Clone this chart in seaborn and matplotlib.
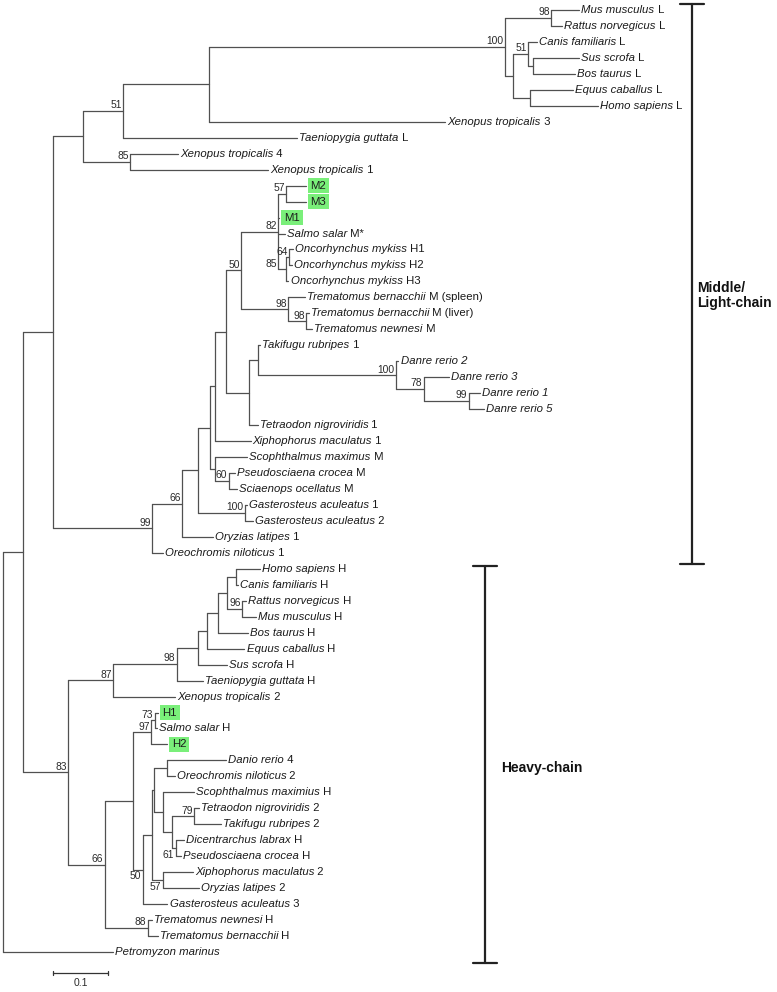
# phylogenetic tree of light / middle / heavy chain sequences, drawn from branch lengths
import numpy as np
import pandas as pd
import seaborn as sns
import matplotlib.pyplot as plt

# ================================
# 1. tree data (parent, child, branch length in substitutions/site)
# ================================
edges_root = [
    ("R", "ING", 0.036), ("ING", "ML", 0.055), ("ING", "HV", 0.082),
    ("R", "Petromyzon marinus", 0.200),
]

edges_light = [
    ("ML", "T1", 0.055), ("T1", "T51", 0.073), ("T51", "T209", 0.156),
    ("T209", "L100", 0.538), ("L100", "L98", 0.084),
    ("L98", "Mus musculus L", 0.051), ("L98", "Rattus norvegicus L", 0.020),
    ("L100", "L513", 0.015), ("L513", "L51", 0.027),
    ("L51", "Canis familiaris L", 0.016), ("L51", "L533", 0.009),
    ("L533", "Sus scrofa L", 0.084), ("L533", "Bos taurus L", 0.076),
    ("L513", "L530", 0.031),
    ("L530", "Equus caballus L", 0.078), ("L530", "Homo sapiens L", 0.122),
    ("T209", "Xenopus tropicalis 3", 0.429),
    ("T51", "Taeniopygia guttata L", 0.316),
    ("T1", "X85", 0.085),
    ("X85", "Xenopus tropicalis 4", 0.087), ("X85", "Xenopus tropicalis 1", 0.251),
]

edges_fish_m = [
    ("ML", "F99", 0.180), ("F99", "F66", 0.055), ("F66", "F198", 0.029),
    ("F198", "F210", 0.022), ("F210", "FA", 0.009), ("FA", "F226", 0.020),
    ("F226", "S50", 0.027), ("S50", "S82", 0.067), ("S82", "S57", 0.015),
    ("S57", "M2", 0.035), ("S57", "M3", 0.035),
    ("S82", "M1", 0.002), ("S82", "Salmo salar M*", 0.013),
    ("S82", "S85", 0.015), ("S85", "S64", 0.005),
    ("S64", "Oncorhynchus mykiss H1", 0.007), ("S64", "Oncorhynchus mykiss H2", 0.005),
    ("S85", "Oncorhynchus mykiss H3", 0.004),
    ("S50", "TB98", 0.085),
    ("TB98", "Trematomus bernacchii M (spleen)", 0.031), ("TB98", "TB98b", 0.033),
    ("TB98b", "Trematomus bernacchii M (liver)", 0.005),
    ("TB98b", "Trematomus newnesi M", 0.011),
    ("F226", "F249", 0.042), ("F249", "F257", 0.015),
    ("F257", "Takifugu rubripes 1", 0.005), ("F257", "D100", 0.251),
    ("D100", "Danre rerio 2", 0.005), ("D100", "D78", 0.051),
    ("D78", "Danre rerio 3", 0.045), ("D78", "D99", 0.082),
    ("D99", "Danre rerio 1", 0.020), ("D99", "Danre rerio 5", 0.027),
    ("F249", "Tetraodon nigroviridis 1", 0.015),
    ("FA", "Xiphophorus maculatus 1", 0.064),
    ("F210", "FB", 0.009),
    ("FB", "Scophthalmus maximus M", 0.058), ("FB", "P60", 0.024),
    ("P60", "Pseudosciaena crocea M", 0.011), ("P60", "Sciaenops ocellatus M", 0.015),
    ("F198", "G100", 0.085),
    ("G100", "Gasterosteus aculeatus 1", 0.004), ("G100", "Gasterosteus aculeatus 2", 0.015),
    ("F66", "Oryzias latipes 1", 0.056),
    ("F99", "Oreochromis niloticus 1", 0.020),
]

edges_heavy = [
    ("HV", "H87", 0.082), ("H87", "H98", 0.116), ("H98", "H198", 0.038),
    ("H198", "H207", 0.016), ("H207", "H218", 0.020), ("H218", "H228", 0.018),
    ("H228", "H236", 0.015),
    ("H236", "Homo sapiens H", 0.044), ("H236", "Canis familiaris H", 0.004),
    ("H228", "H96", 0.027),
    ("H96", "Rattus norvegicus H", 0.007), ("H96", "Mus musculus H", 0.025),
    ("H218", "Bos taurus H", 0.055), ("H207", "Equus caballus H", 0.069),
    ("H198", "Sus scrofa H", 0.053), ("H98", "Taeniopygia guttata H", 0.047),
    ("H87", "Xenopus tropicalis 2", 0.113),
    ("HV", "H66", 0.067), ("H66", "H133", 0.051), ("H133", "H97", 0.033),
    ("H97", "H73", 0.007), ("H73", "H1", 0.005), ("H73", "Salmo salar H", 0.004),
    ("H97", "H2", 0.029),
    ("H133", "H50", 0.018), ("H50", "H152", 0.016), ("H152", "H155", 0.005),
    ("H155", "H168", 0.024),
    ("H168", "Danio rerio 4", 0.107), ("H168", "Oreochromis niloticus 2", 0.013),
    ("H155", "H164", 0.016),
    ("H164", "Scophthalmus maximius H", 0.056), ("H164", "H173", 0.016),
    ("H173", "H79", 0.040),
    ("H79", "Tetraodon nigroviridis 2", 0.009), ("H79", "Takifugu rubripes 2", 0.049),
    ("H173", "H177", 0.007),
    ("H177", "Dicentrarchus labrax H", 0.015), ("H177", "Pseudosciaena crocea H", 0.009),
    ("H152", "H57", 0.020),
    ("H57", "Xiphophorus maculatus 2", 0.055), ("H57", "Oryzias latipes 2", 0.067),
    ("H50", "Gasterosteus aculeatus 3", 0.045),
    ("H66", "H88", 0.078),
    ("H88", "Trematomus newnesi H", 0.007), ("H88", "Trematomus bernacchii H", 0.018),
]

# bootstrap values
support_node = ["T51", "X85", "L100", "L98", "L51", "S57", "S82", "S85", "S64", "S50",
                "TB98", "TB98b", "D100", "D78", "D99", "P60", "G100", "F66", "F99",
                "HV", "H87", "H98", "H96", "H73", "H97", "H66", "H50", "H79", "H177",
                "H57", "H88"]
support_val = [51, 85, 100, 98, 51, 57, 82, 85, 64, 50,
               98, 98, 100, 78, 99, 60, 100, 66, 99,
               83, 87, 98, 96, 73, 97, 66, 50, 79, 61,
               57, 88]
support_below = ["H50", "H177", "H57"]

highlight = ["M1", "M2", "M3", "H1", "H2"]

bracket_text = ["Middle/\nLight-chain", "Heavy-chain"]
bracket_first = ["Mus musculus L", "Homo sapiens H"]
bracket_last = ["Oreochromis niloticus 1", "Petromyzon marinus"]

scale_len = 0.1

# ================================
# 2. layout of the tree (depth from branch lengths, leaves in order)
# ================================
edges = edges_root + edges_light + edges_fish_m + edges_heavy
kids, blen = {}, {}
for p, c, l in edges:
    kids.setdefault(p, []).append(c)
    blen[c] = l

depth = {"R": 0.0}
leaves = []


def walk(n):
    if n not in kids:
        leaves.append(n)
        return
    for c in kids[n]:
        depth[c] = depth[n] + blen[c]
        walk(c)


walk("R")
ypos = {n: i for i, n in enumerate(leaves)}


def set_y(n):
    if n in ypos:
        return ypos[n]
    ys = [set_y(c) for c in kids[n]]
    ypos[n] = (ys[0] + ys[-1]) / 2
    return ypos[n]


set_y("R")

rows = []
seg = 0
for p, c, l in edges:
    rows += [(seg, depth[p], ypos[c]), (seg, depth[c], ypos[c])]
    seg += 1
for n, cs in kids.items():
    rows += [(seg, depth[n], ypos[cs[0]]), (seg, depth[n], ypos[cs[-1]])]
    seg += 1
df = pd.DataFrame(rows, columns=["seg", "x", "y"])

# ================================
# 3. drawing
# ================================
sns.set_theme(style="white")
plt.rcParams['font.family'] = ['Liberation Sans', 'DejaVu Sans']

fig = plt.figure(figsize=(7.77, 9.92), dpi=100)
ax = fig.add_axes([0, 0, 1, 1])

sns.lineplot(data=df, x="x", y="y", units="seg", estimator=None, sort=False,
             color="#505050", lw=0.9, ax=ax, legend=False)

# leaf labels
for n in leaves:
    x, y = depth[n], ypos[n]
    if n in highlight:
        ax.annotate(n, xy=(x, y), xytext=(3.5, 0), textcoords="offset points",
                    va="center", ha="left", fontsize=8.2, color="#1a1a1a",
                    bbox=dict(boxstyle="square,pad=0.25", fc="#7aef7a", ec="none"))
        continue
    w = n.split(" ")
    if n.startswith("Danre") or len(w) <= 2:
        it, rest = n, ""
    else:
        it, rest = " ".join(w[:2]), " ".join(w[2:])
    t = ax.annotate(it, xy=(x, y), xytext=(1.5, 0), textcoords="offset points",
                    va="center", ha="left", fontsize=8.2, style="italic", color="#1a1a1a")
    if rest:
        ax.annotate(" " + rest, xy=(1, 0), xycoords=t, va="bottom", ha="left",
                    fontsize=8.2, color="#1a1a1a")

# bootstrap values
for n, v in zip(support_node, support_val):
    below = n in support_below
    dx = -7 if n == "S85" else -1
    ax.annotate(str(v), xy=(depth[n], ypos[n]), xytext=(dx, -1 if below else 0.5),
                textcoords="offset points", ha="right",
                va="top" if below else "bottom", fontsize=7.4, color="#2a2a2a")

# clade brackets
bracket_x = [1.2527, 0.876]
pad_top = [-0.38, -0.2]
text_dx = [4, 12]
text_dy = [0.7, 0.2]
cap = 0.022
for lab, a, b, bx, pt, tdx, tdy in zip(bracket_text, bracket_first, bracket_last,
                                       bracket_x, pad_top, text_dx, text_dy):
    y0, y1 = ypos[a] + pt, ypos[b] + 0.7
    ax.plot([bx, bx], [y0, y1], color="#222222", lw=1.6)
    ax.plot([bx - cap, bx + cap], [y0, y0], color="#222222", lw=1.6)
    ax.plot([bx - cap, bx + cap], [y1, y1], color="#222222", lw=1.6)
    ax.annotate(lab, xy=(bx, (y0 + y1) / 2 + tdy), xytext=(tdx, 0),
                textcoords="offset points", va="center", ha="left",
                fontsize=10, fontweight="bold", color="#111111", linespacing=1.1)

# scale bar
sx, sy = 0.0909, 60.32
ax.plot([sx, sx + scale_len], [sy, sy], color="#333333", lw=0.9)
for xx in (sx, sx + scale_len):
    ax.plot([xx, xx], [sy - 0.15, sy + 0.15], color="#333333", lw=0.9)
ax.text(sx + scale_len / 2, sy + 0.6, "0.1", ha="center", va="center",
        fontsize=7.5, color="#2a2a2a")

ax.set_xlim(-3 / 550, 774 / 550)
ax.set_ylim(61.505, -0.626)
ax.axis("off")

fig.savefig("out.png", dpi=100)
